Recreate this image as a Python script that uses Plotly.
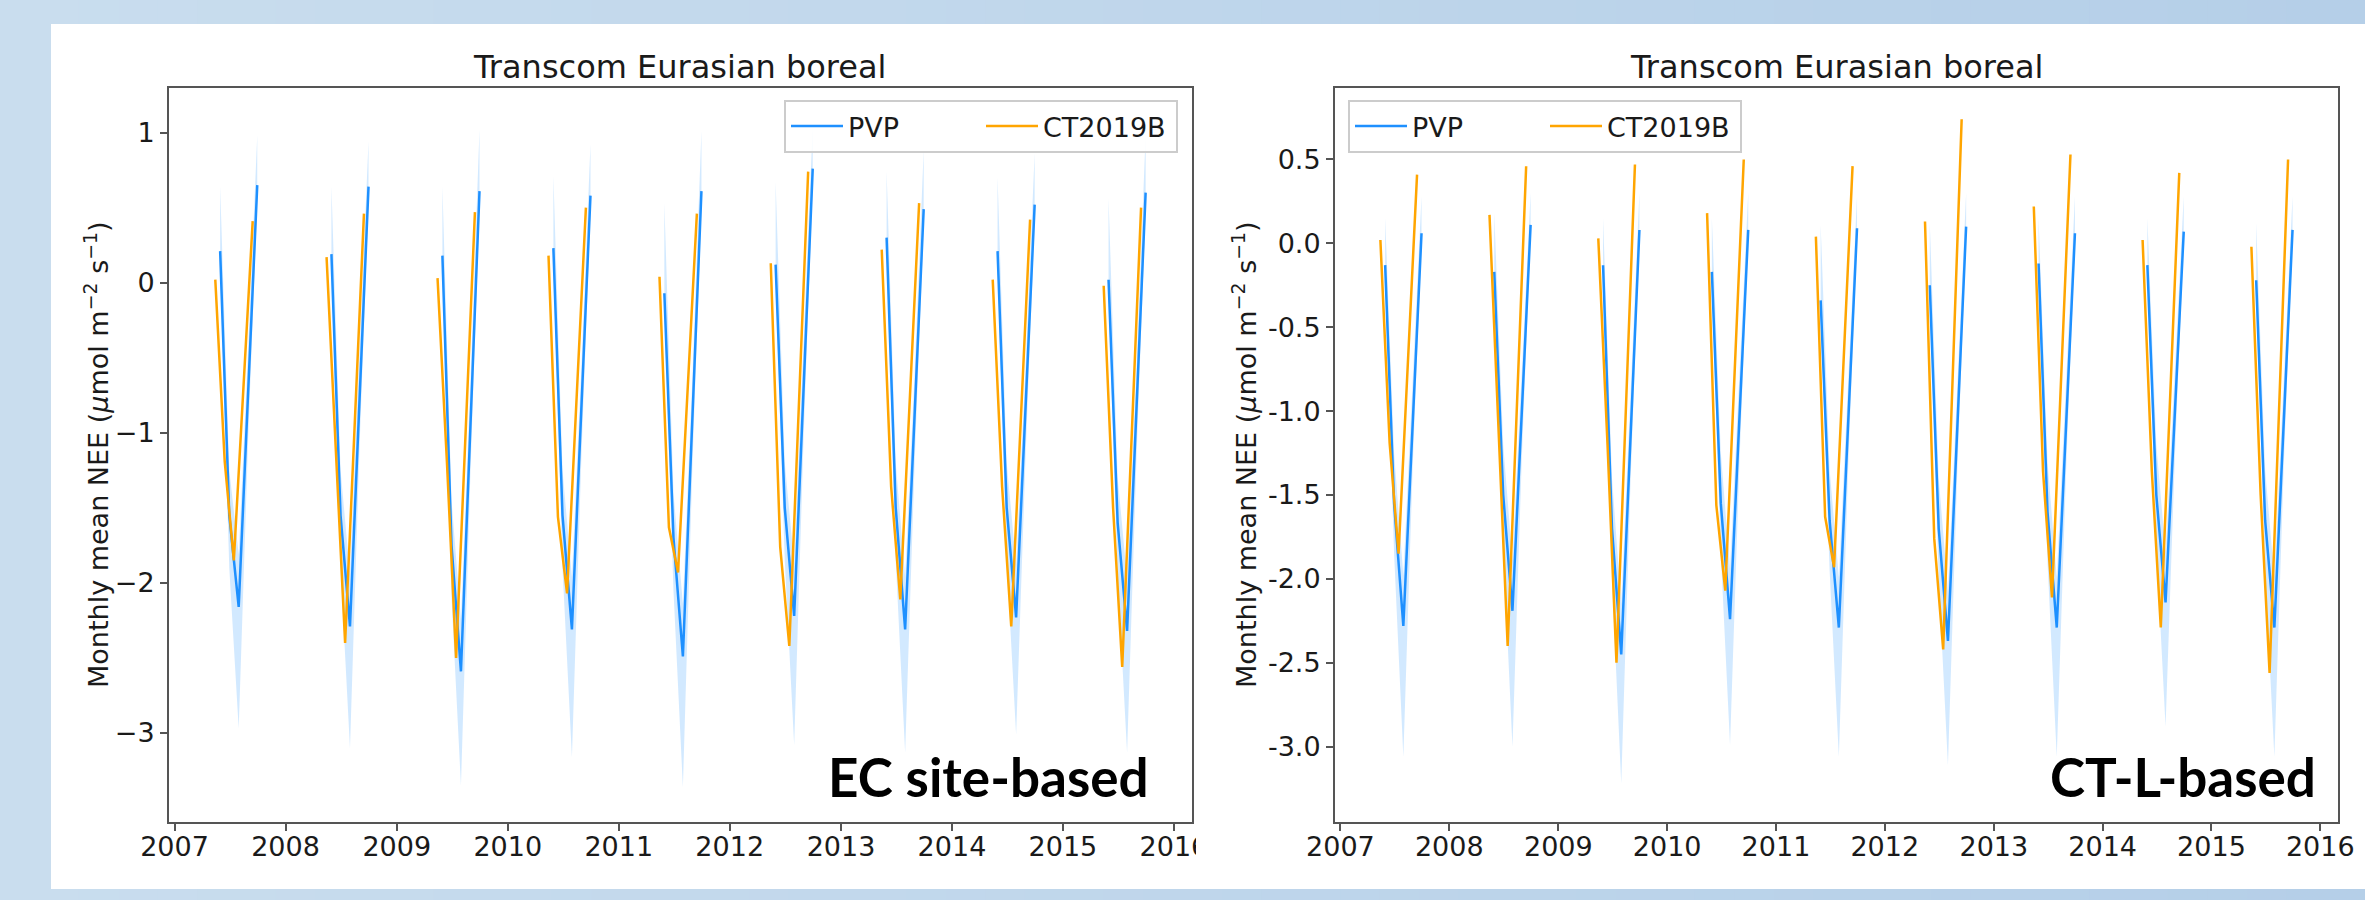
import calendar
import plotly.graph_objects as go

# ---------------- data ----------------
years = list(range(2007, 2016))
months = [5, 6, 7, 8, 9]          # May .. Sep
x_ticks = list(range(2007, 2017))

# CT2019B monthly mean NEE (same in both panels), per year May..Sep
ct2019b = [
    0.02, -1.19, -1.85, -0.72, 0.41,
    0.17, -1.15, -2.40, -0.97, 0.46,
    0.03, -1.20, -2.50, -1.01, 0.47,
    0.18, -1.56, -2.07, -0.79, 0.50,
    0.04, -1.63, -1.93, -0.74, 0.46,
    0.13, -1.76, -2.42, -0.85, 0.74,
    0.22, -1.36, -2.11, -0.79, 0.53,
    0.02, -1.36, -2.29, -0.93, 0.42,
    -0.02, -1.50, -2.56, -1.03, 0.50,
]

# PVP, EC site-based
pvp_ec = [
    0.21, -1.55, -2.16, -0.75, 0.65,
    0.19, -1.55, -2.29, -0.82, 0.64,
    0.18, -1.75, -2.59, -0.98, 0.61,
    0.23, -1.55, -2.31, -0.87, 0.58,
    -0.07, -1.70, -2.49, -0.94, 0.61,
    0.12, -1.50, -2.22, -0.73, 0.76,
    0.30, -1.50, -2.31, -0.91, 0.49,
    0.21, -1.50, -2.23, -0.86, 0.52,
    0.02, -1.60, -2.32, -0.86, 0.60,
]
pvp_ec_hi = [
    0.64, -1.25, -1.81, -0.45, 0.98,
    0.64, -1.25, -1.94, -0.52, 0.94,
    0.64, -1.45, -2.24, -0.68, 1.02,
    0.71, -1.25, -1.96, -0.57, 0.92,
    0.53, -1.40, -2.14, -0.64, 1.01,
    0.67, -1.20, -1.87, -0.43, 1.04,
    0.74, -1.20, -1.96, -0.61, 0.88,
    0.70, -1.20, -1.88, -0.56, 0.86,
    0.56, -1.30, -1.97, -0.56, 0.98,
]
pvp_ec_lo = [
    0.11, -1.90, -2.97, -1.05, 0.55,
    0.09, -1.90, -3.10, -1.12, 0.54,
    0.08, -2.10, -3.35, -1.28, 0.51,
    0.13, -1.90, -3.16, -1.17, 0.48,
    -0.17, -2.05, -3.36, -1.24, 0.51,
    0.02, -1.85, -3.08, -1.03, 0.66,
    0.20, -1.85, -3.13, -1.21, 0.39,
    0.11, -1.85, -3.01, -1.16, 0.42,
    -0.08, -1.95, -3.13, -1.16, 0.50,
]

# PVP, CT-L-based
pvp_ctl = [
    -0.13, -1.55, -2.28, -1.10, 0.06,
    -0.17, -1.50, -2.19, -1.05, 0.11,
    -0.13, -1.70, -2.45, -1.18, 0.08,
    -0.17, -1.55, -2.24, -1.08, 0.08,
    -0.34, -1.65, -2.29, -1.10, 0.09,
    -0.25, -1.70, -2.37, -1.13, 0.10,
    -0.12, -1.60, -2.29, -1.12, 0.06,
    -0.13, -1.50, -2.14, -1.03, 0.07,
    -0.22, -1.65, -2.29, -1.10, 0.08,
]
pvp_ctl_hi = [
    0.15, -1.25, -1.98, -0.80, 0.28,
    0.18, -1.20, -1.89, -0.75, 0.30,
    0.15, -1.40, -2.15, -0.88, 0.30,
    0.15, -1.25, -1.94, -0.78, 0.30,
    0.11, -1.35, -1.99, -0.80, 0.28,
    0.12, -1.40, -2.07, -0.83, 0.30,
    0.15, -1.30, -1.99, -0.82, 0.28,
    0.15, -1.20, -1.84, -0.73, 0.28,
    0.12, -1.35, -1.99, -0.80, 0.28,
]
pvp_ctl_lo = [
    -0.21, -1.85, -3.06, -1.35, 0.01,
    -0.25, -1.80, -3.00, -1.30, 0.06,
    -0.21, -2.00, -3.22, -1.43, 0.03,
    -0.25, -1.85, -2.99, -1.33, 0.03,
    -0.42, -1.95, -3.06, -1.35, 0.04,
    -0.33, -2.00, -3.11, -1.38, 0.05,
    -0.20, -1.90, -3.06, -1.37, 0.01,
    -0.21, -1.80, -2.88, -1.28, 0.02,
    -0.30, -1.95, -3.06, -1.35, 0.03,
]

y_ticks_ec = [-3, -2, -1, 0, 1]
y_ticktext_ec = ["\u22123", "\u22122", "\u22121", "0", "1"]
y_ticks_ctl = [-3.0, -2.5, -2.0, -1.5, -1.0, -0.5, 0.0, 0.5]
y_ticktext_ctl = ["-3.0", "-2.5", "-2.0", "-1.5", "-1.0", "-0.5", "0.0", "0.5"]

# ---------------- helpers ----------------
W, H = 2365, 900
BLUE = "#1e90ff"
ORANGE = "#ffa500"
BAND = "rgba(30,144,255,0.2)"
FONT = "DejaVu Sans"


def mid_dates():
    return [[f"{y}-{m:02d}-15" for m in months] for y in years]


def end_dates():
    return [[f"{y}-{m:02d}-{calendar.monthrange(y, m)[1]:02d}" for m in months] for y in years]


def gapped(dates, vals):
    xs, ys = [], []
    n = len(months)
    for i, d in enumerate(dates):
        xs += d + [None]
        ys += vals[i * n:(i + 1) * n] + [None]
    return xs, ys


def band(dates, hi, lo):
    xs, ys = [], []
    n = len(months)
    for i, d in enumerate(dates):
        h = hi[i * n:(i + 1) * n]
        l = lo[i * n:(i + 1) * n]
        xs += d + d[::-1] + [d[0], None]
        ys += h + l[::-1] + [h[0], None]
    return xs, ys


def px(x):
    return x / W


def py(y):
    return 1 - y / H


fig = go.Figure()

panels = [
    dict(pvp=pvp_ec, hi=pvp_ec_hi, lo=pvp_ec_lo, xa="x", ya="y", leg="legend"),
    dict(pvp=pvp_ctl, hi=pvp_ctl_hi, lo=pvp_ctl_lo, xa="x2", ya="y2", leg="legend2"),
]
for p in panels:
    bx, by = band(end_dates(), p["hi"], p["lo"])
    fig.add_trace(go.Scatter(x=bx, y=by, mode="lines", fill="toself", fillcolor=BAND,
                             line=dict(width=0), hoverinfo="skip", showlegend=False,
                             xaxis=p["xa"], yaxis=p["ya"]))
    lx, ly = gapped(end_dates(), p["pvp"])
    fig.add_trace(go.Scatter(x=lx, y=ly, mode="lines", name="PVP",
                             line=dict(color=BLUE, width=2.5),
                             xaxis=p["xa"], yaxis=p["ya"], legend=p["leg"]))
    ox, oy = gapped(mid_dates(), ct2019b)
    fig.add_trace(go.Scatter(x=ox, y=oy, mode="lines", name="CT2019B",
                             line=dict(color=ORANGE, width=2.5),
                             xaxis=p["xa"], yaxis=p["ya"], legend=p["leg"]))

# ---------------- background ----------------
shapes = []
NS = 60
c0 = (201, 221, 238)
c1 = (181, 207, 232)
for i in range(NS):
    t = i / (NS - 1)
    c = tuple(round(c0[k] + (c1[k] - c0[k]) * t) for k in range(3))
    shapes.append(dict(type="rect", xref="paper", yref="paper", layer="below",
                       x0=i / NS, x1=(i + 1) / NS + 0.002, y0=0, y1=1,
                       fillcolor=f"rgb{c}", line=dict(width=0)))
shapes.append(dict(type="rect", xref="paper", yref="paper", layer="below",
                   x0=px(51), x1=1.0, y0=py(889), y1=py(24),
                   fillcolor="white", line=dict(width=0)))
# the right-hand picture overlaps the end of the left picture's last tick label
shapes.append(dict(type="rect", xref="paper", yref="paper", layer="above",
                   x0=px(1196), x1=px(1300), y0=py(880), y1=py(826),
                   fillcolor="white", line=dict(width=0)))

x_range = ["2006-12-13 18:00", "2016-02-29 12:00"]
tickvals_x = [f"{y}-01-01" for y in x_ticks]
ticktext_x = [str(y) for y in x_ticks]

axis_common = dict(showline=True, mirror=True, linecolor="#555555", linewidth=2,
                   ticks="outside", ticklen=7, tickwidth=2, tickcolor="#555555",
                   showgrid=False, zeroline=False, automargin=False,
                   tickfont=dict(family=FONT, size=27, color="#1a1a1a"))

ydom = [py(822), py(88)]
legend_common = dict(orientation="h", bgcolor="rgba(255,255,255,0.85)",
                     bordercolor="#cccccc", borderwidth=2,
                     font=dict(family=FONT, size=27, color="#1a1a1a"),
                     entrywidth=128, itemwidth=52, yanchor="top")
fig.update_layout(
    width=W, height=H, margin=dict(l=0, r=0, t=0, b=0), autosize=False,
    paper_bgcolor="rgb(190,214,236)", plot_bgcolor="white",
    shapes=shapes, showlegend=True,
    xaxis=dict(domain=[px(169), px(1192)], type="date", range=x_range,
               tickvals=tickvals_x, ticktext=ticktext_x, anchor="y",
               ticklabelstandoff=-7, **axis_common),
    yaxis=dict(domain=ydom, range=[-3.593, 1.297], tickvals=y_ticks_ec,
               ticktext=y_ticktext_ec, anchor="x", **axis_common),
    xaxis2=dict(domain=[px(1335), px(2338)], type="date", range=x_range,
                tickvals=tickvals_x, ticktext=ticktext_x, anchor="y2",
                ticklabelstandoff=-7, **axis_common),
    yaxis2=dict(domain=ydom, range=[-3.449, 0.926], tickvals=y_ticks_ctl,
                ticktext=y_ticktext_ctl, anchor="x2", **axis_common),
    legend=dict(x=px(1178), y=py(100), xanchor="right", **legend_common),
    legend2=dict(x=px(1348), y=py(100), xanchor="left", **legend_common),
)

ylabel = "Monthly mean NEE (<i>\u03bc</i>mol m<sup>\u22122</sup> s<sup>\u22121</sup>)"
annotations = []
for cx in [680, 1836.5]:
    annotations.append(dict(text="Transcom Eurasian boreal", xref="paper", yref="paper",
                            x=px(cx), y=py(67), xanchor="center", yanchor="middle",
                            showarrow=False, font=dict(family=FONT, size=32, color="#1a1a1a")))
for cx in [96, 1244]:
    annotations.append(dict(text=ylabel, xref="paper", yref="paper", x=px(cx), y=py(455),
                            xanchor="center", yanchor="middle", textangle=-90,
                            showarrow=False, font=dict(family=FONT, size=27, color="#1a1a1a")))
for rx, label in [(1151, "EC site-based"), (2318, "CT-L-based")]:
    annotations.append(dict(text=f"<b>{label}</b>", xref="paper", yref="paper",
                            x=px(rx), y=py(776), xanchor="right", yanchor="middle",
                            showarrow=False, font=dict(family="Lato", size=53, color="black")))
fig.update_layout(annotations=annotations)

fig.write_html("out.html")
